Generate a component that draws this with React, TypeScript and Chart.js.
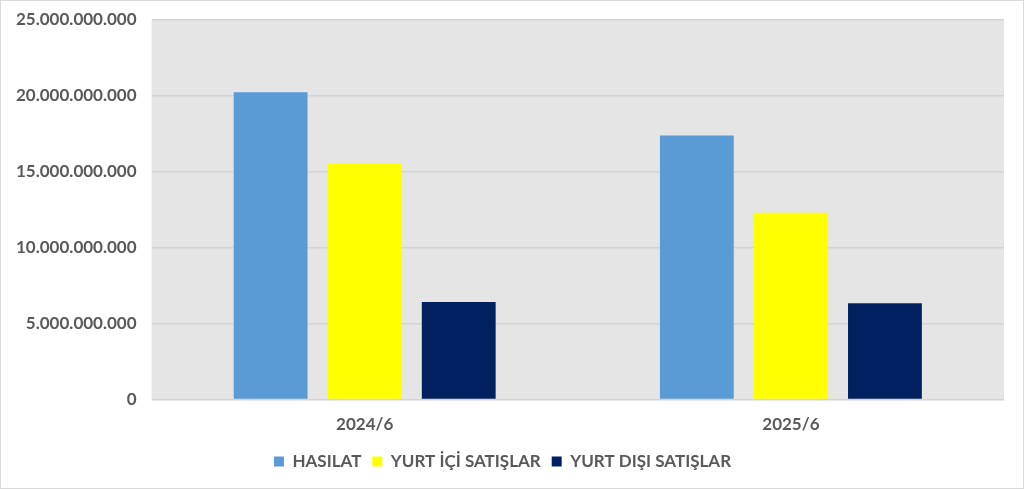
import { useEffect, useRef } from "react";
import { Chart, registerables } from "chart.js";

Chart.register(...registerables);

const periods = ["2024/6", "2025/6"];
const seriesNames = ["HASILAT", "YURT İÇİ SATIŞLAR", "YURT DIŞI SATIŞLAR"];
const hasilat = [20240000000, 17390000000];
const yurtIci = [15540000000, 12300000000];
const yurtDisi = [6420000000, 6350000000];
const seriesColors = ["#5b9bd5", "#ffff00", "#002060"];

const FONT = "Lato, 'Open Sans', sans-serif";

function dotted(v: number) {
  return String(Math.round(v)).replace(/\B(?=(\d{3})+(?!\d))/g, ".");
}

const plotBg = {
  id: "plotBg",
  beforeDraw(chart: Chart) {
    const { ctx, chartArea } = chart;
    ctx.save();
    ctx.fillStyle = "#e5e5e5";
    ctx.fillRect(chartArea.left, chartArea.top, chartArea.right - chartArea.left, chartArea.bottom - chartArea.top);
    ctx.restore();
  },
};

export default function App() {
  const canvasRef = useRef<HTMLCanvasElement>(null);
  const chartRef = useRef<Chart | null>(null);

  useEffect(() => {
    if (!canvasRef.current) return;
    chartRef.current?.destroy();

    const values = [hasilat, yurtIci, yurtDisi];
    chartRef.current = new Chart(canvasRef.current, {
      type: "bar",
      data: {
        labels: periods,
        datasets: seriesNames.map((name, i) => ({
          label: name,
          data: values[i],
          backgroundColor: seriesColors[i],
          borderWidth: 0,
          categoryPercentage: 0.662,
          barPercentage: 0.785,
        })),
      },
      options: {
        responsive: true,
        maintainAspectRatio: false,
        animation: false,
        layout: { padding: { top: 19, right: 19, left: 0, bottom: 8 } },
        plugins: {
          tooltip: { enabled: false },
          legend: {
            position: "bottom",
            labels: {
              boxWidth: 10,
              boxHeight: 10,
              padding: 11,
              color: "#595959",
              font: { family: FONT, size: 17, weight: "bold" },
            },
          },
        },
        scales: {
          x: {
            grid: { display: false },
            border: { display: false },
            ticks: { color: "#595959", padding: 7, font: { family: FONT, size: 17, weight: "bold" } },
          },
          y: {
            min: 0,
            max: 25000000000,
            border: { display: false },
            grid: { color: "#d4d4d4", lineWidth: 1.5, drawTicks: false },
            afterFit: (s) => { s.paddingTop = 0; s.paddingBottom = 0; },
            ticks: {
              stepSize: 5000000000,
              padding: 15,
              color: "#595959",
              font: { family: FONT, size: 17, weight: "bold" },
              callback: (v) => dotted(Number(v)),
            },
          },
        },
      },
      plugins: [plotBg],
    });

    return () => { chartRef.current?.destroy(); };
  }, []);

  return (
    <div style={{ position: "fixed", inset: 0, background: "#fff", border: "1px solid #d9d9d9", boxSizing: "border-box" }}>
      <canvas ref={canvasRef} />
    </div>
  );
}
